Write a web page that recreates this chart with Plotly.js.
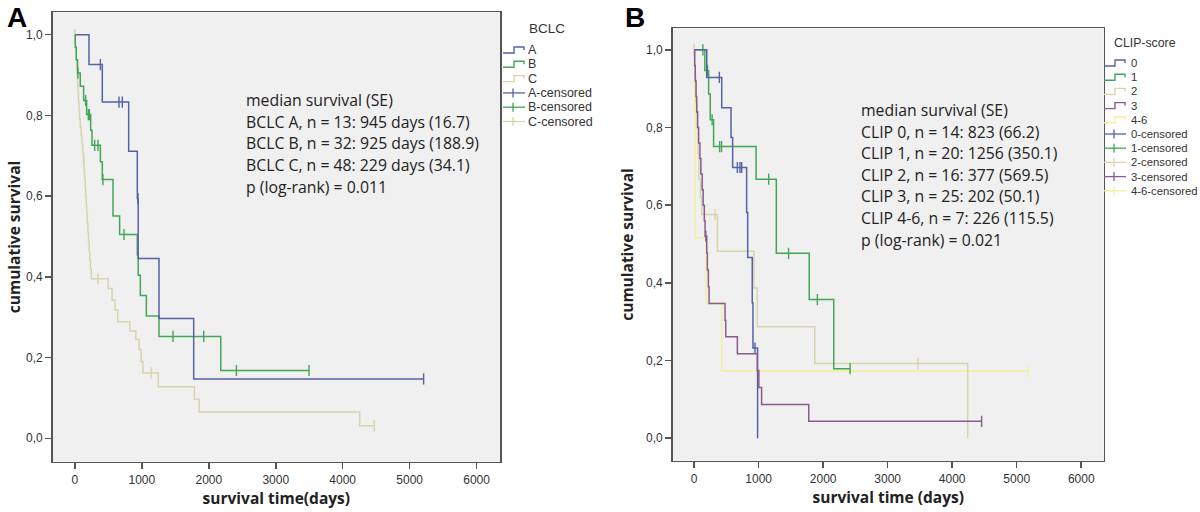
<!DOCTYPE html>
<html>
<head>
<meta charset="utf-8">
<script src="https://cdn.plot.ly/plotly-3.0.1.min.js"></script>
<style>
html,body{margin:0;padding:0;background:#fff;}
#chart{width:1200px;height:512px;}
</style>
</head>
<body>
<div id="chart"></div>
<script>
// ---------- Panel A: BCLC ----------
const aTime = [0,210,409,803,932,945,1256,1774,5209];
const aSurv = [1,0.926,0.833,0.711,0.594,0.4455,0.297,0.147,0.147];
const aCensT = [380,658,708,942,5209];
const aCensS = [0.926,0.833,0.833,0.594,0.147];

const bTime = [0,5,20,40,80,130,175,235,255,380,409,569,668,932,945,977,1067,1256,2178,3497];
const bSurv = [1,0.969,0.938,0.905,0.872,0.837,0.802,0.763,0.726,0.685,0.641,0.551,0.505,0.4545,0.404,0.3535,0.303,0.2525,0.168,0.168];
const bCensT = [45,160,200,215,295,345,418,733,1465,1924,2412,3497];
const bCensS = [0.905,0.837,0.802,0.802,0.726,0.726,0.641,0.505,0.2525,0.2525,0.168,0.168];

const cTime = [0,5,12,20,28,34,40,47,54,61,68,80,92,104,116,126,136,144,152,160,168,176,185,194,203,212,221,233,245,495,555,600,640,820,910,960,990,1015,1245,1785,1855,4253,4471];
const cSurv = [1,0.979,0.958,0.938,0.917,0.896,0.875,0.854,0.833,0.813,0.792,0.771,0.750,0.729,0.708,0.688,0.666,0.644,0.622,0.600,0.578,0.556,0.533,0.510,0.487,0.464,0.441,0.418,0.395,0.371,0.342,0.318,0.289,0.266,0.245,0.22,0.19,0.162,0.128,0.097,0.065,0.031,0.031];
const cCensT = [0,130,345,1141,4471];
const cCensS = [1,0.688,0.395,0.162,0.031];

// ---------- Panel B: CLIP score ----------
const c0Time = [0,196,428,572,597,814,830,901,912,984];
const c0Surv = [1,0.929,0.851,0.774,0.697,0.581,0.465,0.349,0.232,0];
const c0CensT = [391,670,711,737,943];
const c0CensS = [0.929,0.697,0.697,0.697,0.232];

const c1Time = [0,166,225,250,302,960,1274,1784,2164,2418];
const c1Surv = [1,0.947,0.886,0.82,0.751,0.667,0.476,0.357,0.179,0.179];
const c1CensT = [136,207,279,395,425,1156,1464,1910,2418];
const c1CensS = [1,0.947,0.82,0.751,0.751,0.667,0.476,0.357,0.179];

const c2Time = [0,10,25,45,60,75,100,119,361,927,979,1870,4240];
const c2Surv = [1,0.933,0.867,0.80,0.733,0.667,0.62,0.576,0.4815,0.387,0.287,0.192,0];
const c2CensT = [0,325,3467];
const c2CensS = [1,0.576,0.192];

const c3Time = [0,8,18,30,40,55,70,90,105,125,140,158,170,196,205,221,232,479,490,670,979,1003,1046,1777,4456];
const c3Surv = [1,0.96,0.92,0.88,0.84,0.80,0.76,0.72,0.68,0.64,0.60,0.56,0.52,0.477,0.433,0.39,0.347,0.304,0.261,0.2175,0.174,0.1305,0.087,0.0435,0.0435];
const c3CensT = [182,4456];
const c3CensS = [0.52,0.0435];

const c46Time = [0,10,15,20,190,428,5180];
const c46Surv = [1,0.845,0.68,0.516,0.349,0.173,0.173];
const c46CensT = [5,5180];
const c46CensS = [1,0.173];

// ---------- texts ----------
const xTicks = [0,1000,2000,3000,4000,5000,6000];
const yTicks = [0,0.2,0.4,0.6,0.8,1.0];
const legendATitle = "BCLC";
const legendALabels = ["A","B","C","A-censored","B-censored","C-censored"];
const legendBTitle = "CLIP-score";
const legendBLabels = ["0","1","2","3","4-6","0-censored","1-censored","2-censored","3-censored","4-6-censored"];
const statsA = ["median survival (SE)","BCLC A, n = 13: 945 days (16.7)","BCLC B, n = 32: 925 days (188.9)","BCLC C, n = 48: 229 days (34.1)","p (log-rank) = 0.011"];
const statsB = ["median survival (SE)","CLIP 0, n = 14: 823 (66.2)","CLIP 1, n = 20: 1256 (350.1)","CLIP 2, n = 16: 377 (569.5)","CLIP 3, n = 25: 202 (50.1)","CLIP 4-6, n = 7: 226 (115.5)","p (log-rank) = 0.021"];

// ---------- styles ----------
const BLUE = '#5662a8', GREEN = '#43a654', BEIGE = '#d8d4ac', PURPLE = '#8a5a8e', YELLOW = '#f2f09c';
const W = 1200, H = 512;
const px = x => x / W, py = y => 1 - y / H;

function curve(t, s, color, xa, ya) {
  return {x: t, y: s, type: 'scatter', mode: 'lines', line: {shape: 'hv', color: color, width: 1.5},
          xaxis: xa, yaxis: ya, hoverinfo: 'skip', showlegend: false};
}
function cens(t, s, color, xa, ya) {
  return {x: t, y: s, type: 'scatter', mode: 'markers',
          marker: {symbol: 'line-ns-open', size: 8, color: color, line: {color: color, width: 1.4}},
          xaxis: xa, yaxis: ya, hoverinfo: 'skip', showlegend: false};
}

const traces = [
  curve(cTime, cSurv, BEIGE, 'x', 'y'), cens(cCensT, cCensS, BEIGE, 'x', 'y'),
  curve(bTime, bSurv, GREEN, 'x', 'y'), cens(bCensT, bCensS, GREEN, 'x', 'y'),
  curve(aTime, aSurv, BLUE, 'x', 'y'), cens(aCensT, aCensS, BLUE, 'x', 'y'),

  curve(c46Time, c46Surv, YELLOW, 'x2', 'y2'), cens(c46CensT, c46CensS, YELLOW, 'x2', 'y2'),
  curve(c2Time, c2Surv, BEIGE, 'x2', 'y2'), cens(c2CensT, c2CensS, BEIGE, 'x2', 'y2'),
  curve(c1Time, c1Surv, GREEN, 'x2', 'y2'), cens(c1CensT, c1CensS, GREEN, 'x2', 'y2'),
  curve(c0Time, c0Surv, BLUE, 'x2', 'y2'), cens(c0CensT, c0CensS, BLUE, 'x2', 'y2'),
  curve(c3Time, c3Surv, PURPLE, 'x2', 'y2'), cens(c3CensT, c3CensS, PURPLE, 'x2', 'y2'),
];

const tickFont = {family: 'Liberation Sans, Arial, sans-serif', size: 12, color: '#333'};
const titleFont = {family: 'Open Sans, sans-serif', size: 15.5, color: '#222', weight: 'bold'};

function xAxis(domain, title) {
  return {domain: domain, range: [-332, 6350], tickvals: xTicks, ticks: 'outside', ticklen: 6,
          tickwidth: 1.5, tickcolor: '#555', showgrid: false, zeroline: false,
          showline: true, mirror: true, linecolor: '#555', linewidth: 1.5,
          tickfont: tickFont, title: {text: title, font: titleFont, standoff: 7}};
}
function yAxis(domain, anchor, standoff) {
  return {domain: domain, anchor: anchor, range: [-0.058, 1.0555], tickvals: yTicks, tickformat: '.1f',
          ticks: 'outside', ticklen: 6, tickwidth: 1.5, tickcolor: '#555', showgrid: false, zeroline: false,
          showline: true, mirror: true, linecolor: '#555', linewidth: 1.5,
          tickfont: tickFont, title: {text: 'cumulative survival', font: titleFont, standoff: standoff}};
}

const annotations = [];
const shapes = [];

// panel letters
annotations.push({text: '<b>A</b>', x: px(17), y: py(17), xref: 'paper', yref: 'paper', showarrow: false,
  font: {family: 'Liberation Sans, Arial', size: 28, color: '#000'}, xanchor: 'center', yanchor: 'middle'});
annotations.push({text: '<b>B</b>', x: px(635), y: py(17), xref: 'paper', yref: 'paper', showarrow: false,
  font: {family: 'Liberation Sans, Arial', size: 28, color: '#000'}, xanchor: 'center', yanchor: 'middle'});

// stats texts
const statFont = {family: 'Open Sans, sans-serif', size: 15.8, color: '#222'};
statsA.forEach((t, i) => annotations.push({text: t, x: px(244), y: py(100 + i * 21.7), xref: 'paper', yref: 'paper',
  showarrow: false, xanchor: 'left', yanchor: 'middle', font: statFont}));
statsB.forEach((t, i) => annotations.push({text: t, x: px(859), y: py(110 + i * 21.6), xref: 'paper', yref: 'paper',
  showarrow: false, xanchor: 'left', yanchor: 'middle', font: statFont}));

// legends
const legFont = {family: 'Liberation Sans, Arial, sans-serif', size: 12.5, color: '#333'};
function legend(title, titleX, titleY, labels, colors, nCurves, x0, y0, dy, textX, fontSize) {
  annotations.push({text: title, x: px(titleX), y: py(titleY), xref: 'paper', yref: 'paper', showarrow: false,
    xanchor: 'center', yanchor: 'middle', font: Object.assign({}, legFont, {size: fontSize + 1})});
  labels.forEach((lab, i) => {
    const y = y0 + i * dy;
    const col = colors[i % nCurves];
    annotations.push({text: lab, x: px(textX), y: py(y), xref: 'paper', yref: 'paper', showarrow: false,
      xanchor: 'left', yanchor: 'middle', font: Object.assign({}, legFont, {size: fontSize})});
    if (i < nCurves) {
      const p = 'M' + px(x0) + ',' + py(y + 3) + ' L' + px(x0 + 11) + ',' + py(y + 3) + ' L' + px(x0 + 11) + ',' + py(y - 3) +
                ' L' + px(x0 + 21) + ',' + py(y - 3) + ' L' + px(x0 + 21) + ',' + py(y);
      shapes.push({type: 'path', path: p, xref: 'paper', yref: 'paper', line: {color: col, width: 1.4}});
    } else {
      shapes.push({type: 'line', x0: px(x0), x1: px(x0 + 22), y0: py(y), y1: py(y), xref: 'paper', yref: 'paper',
        line: {color: col, width: 1.3}});
      shapes.push({type: 'line', x0: px(x0 + 10), x1: px(x0 + 10), y0: py(y - 4.5), y1: py(y + 4.5), xref: 'paper', yref: 'paper',
        line: {color: col, width: 1.3}});
    }
  });
}
legend(legendATitle, 547, 28, legendALabels, [BLUE, GREEN, BEIGE], 3, 503, 50, 14.3, 526, 12.5);
legend(legendBTitle, 1145, 43, legendBLabels, [BLUE, GREEN, BEIGE, PURPLE, YELLOW], 5, 1104, 63, 14.2, 1129, 11.3);

const layout = {
  width: W, height: H,
  margin: {l: 0, r: 0, t: 0, b: 0},
  paper_bgcolor: '#ffffff', plot_bgcolor: '#f0f0f0',
  separators: ',.',
  showlegend: false,
  xaxis: xAxis([px(52.7), px(500)], 'survival time(days)'),
  yaxis: yAxis([py(461.7), py(12.3)], 'x', 1),
  xaxis2: Object.assign(xAxis([px(672.7), px(1103.8)], 'survival time (days)'), {anchor: 'y2'}),
  yaxis2: yAxis([py(460.7), py(28.3)], 'x2', 8),
  annotations: annotations,
  shapes: shapes
};
layout.xaxis.anchor = 'y';

Plotly.newPlot('chart', traces, layout, {staticPlot: true, displayModeBar: false});
</script>
</body>
</html>
